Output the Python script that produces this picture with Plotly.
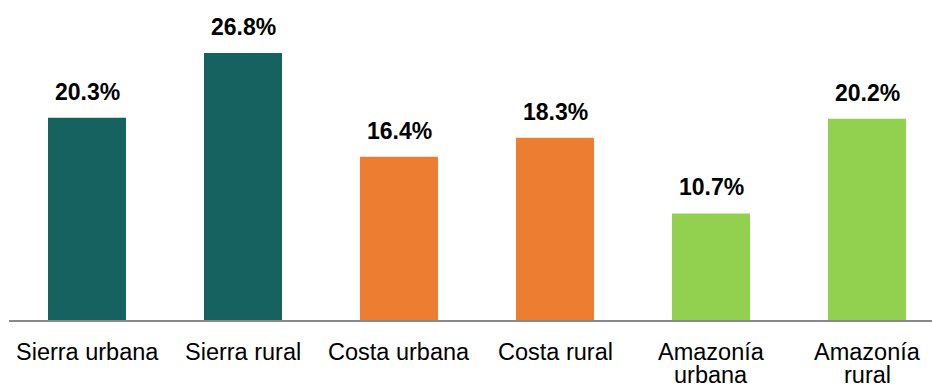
import plotly.graph_objects as go

# Regions and their shares
categories = ["Sierra urbana", "Sierra rural", "Costa urbana", "Costa rural",
              "Amazonía urbana", "Amazonía rural"]
label_lines = [["Sierra urbana"], ["Sierra rural"], ["Costa urbana"], ["Costa rural"],
               ["Amazonía", "urbana"], ["Amazonía", "rural"]]
values = [20.3, 26.8, 16.4, 18.3, 10.7, 20.2]
bar_colors = ["#156261", "#156261", "#ED7D31", "#ED7D31", "#92D050", "#92D050"]

FONT = "Liberation Sans, Arial, sans-serif"
W, H = 932, 385
M_L, M_R, M_T, M_B = 9, 0, 1, 65
PX_PER_UNIT = 9.96
plot_h = H - M_T - M_B

fig = go.Figure(go.Bar(
    x=categories,
    y=values,
    marker=dict(color=bar_colors, line=dict(width=0)),
    width=0.5,
    hoverinfo="skip",
))

annotations = []
# value labels above each bar
for c, v in zip(categories, values):
    annotations.append(dict(
        x=c, y=v, xref="x", yref="y", text=f"<b>{v:.1f}%</b>",
        showarrow=False, yanchor="bottom", yshift=11,
        font=dict(family=FONT, size=23, color="#000000"),
    ))
# category labels under the axis (tight line spacing)
for c, lines in zip(categories, label_lines):
    for i, line in enumerate(lines):
        annotations.append(dict(
            x=c, y=0, xref="x", yref="paper", text=line,
            showarrow=False, yanchor="top", yshift=-17 - 23 * i,
            font=dict(family=FONT, size=23.5, color="#000000"),
        ))

fig.update_layout(
    width=W, height=H,
    margin=dict(l=M_L, r=M_R, t=M_T, b=M_B, pad=0),
    paper_bgcolor="white", plot_bgcolor="white",
    showlegend=False,
    bargap=0.5,
    xaxis=dict(
        type="category",
        range=[-0.5, 5.5 - (945 - W) / 156],
        showticklabels=False, ticks="",
        showline=True, linecolor="#898989", linewidth=2,
        showgrid=False, zeroline=False, fixedrange=True,
    ),
    yaxis=dict(
        range=[0, plot_h / PX_PER_UNIT],
        visible=False, showgrid=False, zeroline=False, fixedrange=True,
    ),
    annotations=annotations,
)

fig.write_html("out.html", config={"displayModeBar": False})
